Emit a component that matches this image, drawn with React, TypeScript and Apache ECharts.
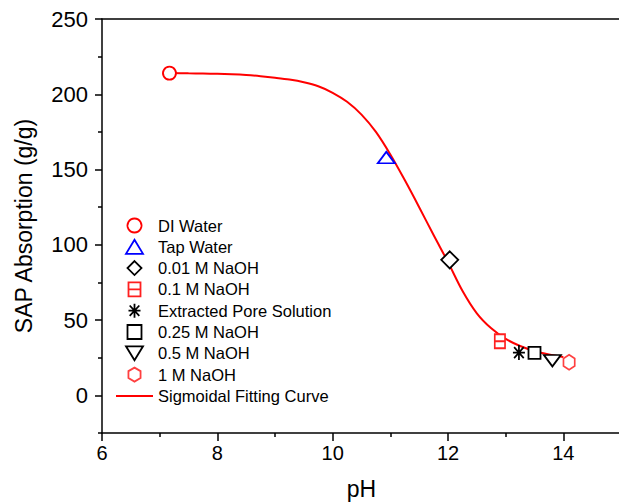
import React, { useEffect, useRef } from "react";
import * as echarts from "echarts";

// ---- data ----
const sampleNames = [
  "DI Water",
  "Tap Water",
  "0.01 M NaOH",
  "0.1 M NaOH",
  "Extracted Pore Solution",
  "0.25 M NaOH",
  "0.5 M NaOH",
  "1 M NaOH",
];
const samplePH = [7.17, 10.93, 12.03, 12.9, 13.23, 13.5, 13.81, 14.1];
const sampleAbsorption = [214, 158, 90, 36, 28.4, 28.2, 23, 22];

const curveName = "Sigmoidal Fitting Curve";
const curvePH = [7.18, 7.5, 7.75, 8.0, 8.25, 8.5, 8.75, 9.0, 9.25, 9.5, 9.75, 10.0, 10.25, 10.5, 10.75, 11.0, 11.25, 11.5, 11.75, 12.0, 12.25, 12.5, 12.75, 13.0, 13.25, 13.5, 13.75, 14.0];
const curveAbs = [214.1, 213.9, 213.8, 213.6, 213.3, 212.8, 212.0, 211.0, 209.8, 208.0, 205.3, 201.0, 195.0, 186.5, 175.0, 160.0, 143.0, 125.0, 106.5, 88.5, 69.5, 54.5, 44.5, 37.5, 32.8, 29.5, 27.2, 25.5];

const yMajorTicks = [0, 50, 100, 150, 200, 250];
const yMinorTicks = [-25, 25, 75, 125, 175, 225];

// ---- styles ----
const symbols = [
  "path://M7,0 A7,7 0 1 1 6.99,0 Z",
  "path://M8.5,0 L17,14 L0,14 Z",
  "path://M9,0 L18,9 L9,18 L0,9 Z",
  "path://M0,0 L12,0 L12,14 L0,14 Z M0,7 L12,7",
  "path://M6,0 L6,14 M0,7 L12,7 M1.2,1.8 L10.8,12.2 M1.2,12.2 L10.8,1.8",
  "path://M0,0 L12,0 L12,12 L0,12 Z",
  "path://M0,0 L17,0 L8.5,14 Z",
  "path://M7,0 L13.06,3.5 L13.06,10.5 L7,14 L0.94,10.5 L0.94,3.5 Z",
];
const sizes: any[] = [13, [17, 14], 17, [12, 14], [14, 15], 12, [17, 14], [13, 15]];
const colors = ["#ff0000", "#0000ff", "#000000", "#ff2020", "#000000", "#000000", "#000000", "#ff4040"];

const FONT = "Liberation Sans, Arial, sans-serif";

export default function App() {
  const ref = useRef<HTMLDivElement>(null);
  useEffect(() => {
    if (!ref.current) return;
    const chart = echarts.init(ref.current, undefined, { renderer: "svg" });
    const scatterSeries = sampleNames.map((name, i) => ({
      name,
      type: "scatter",
      data: [[samplePH[i], sampleAbsorption[i]]],
      symbol: symbols[i],
      symbolSize: sizes[i],
      symbolKeepAspect: true,
      z: 5,
      itemStyle: {
        color: "#ffffff",
        borderColor: colors[i],
        borderWidth: 1.8,
        opacity: 1,
      },
    }));
    const option: any = {
      animation: false,
      backgroundColor: "#ffffff",
      textStyle: { fontFamily: FONT, color: "#000" },
      grid: { left: 102, right: -2, top: 19, bottom: 71, outerBoundsMode: "none", containLabel: false },
      legend: {
        orient: "vertical",
        left: 111,
        top: 212,
        itemWidth: 37,
        itemHeight: 14,
        itemGap: 4.3,
        symbolKeepAspect: true,
        itemStyle: { borderWidth: 1.8 },
        textStyle: { fontFamily: FONT, fontSize: 16.5, color: "#000", lineHeight: 16 },
        data: [
          ...sampleNames.map((name, i) => ({ name, icon: symbols[i] })),
          { name: curveName, icon: "path://M0,0 L37,0 L37,2 L0,2 Z", itemStyle: { color: "#ff0000", borderWidth: 0 } },
        ],
      },
      xAxis: [
        {
          type: "value",
          min: 6,
          max: 15,
          interval: 2,
          name: "pH",
          nameLocation: "middle",
          nameGap: 44,
          nameTextStyle: { fontFamily: FONT, fontSize: 23, color: "#000" },
          axisLine: { show: true, onZero: false, lineStyle: { color: "#000", width: 1.5 } },
          axisTick: { show: true, inside: false, length: 8, lineStyle: { color: "#000", width: 1.5 } },
          minorTick: { show: true, splitNumber: 2, length: 4, lineStyle: { color: "#000", width: 1.5 } },
          axisLabel: { fontFamily: FONT, fontSize: 20, color: "#000", margin: 10, showMaxLabel: false },
          splitLine: { show: false },
          minorSplitLine: { show: false },
        },
        {
          type: "value",
          position: "top",
          min: 6,
          max: 15,
          axisLine: { show: true, onZero: false, lineStyle: { color: "#000", width: 1.5 } },
          axisTick: { show: false },
          axisLabel: { show: false },
          splitLine: { show: false },
        },
      ],
      yAxis: [
        {
          type: "value",
          min: -25,
          max: 250,
          name: "SAP Absorption (g/g)",
          nameLocation: "middle",
          nameGap: 67,
          nameTextStyle: { fontFamily: FONT, fontSize: 23, color: "#000" },
          axisLine: { show: true, onZero: false, lineStyle: { color: "#000", width: 1.5 } },
          axisTick: {
            show: true,
            length: 7,
            customValues: yMajorTicks,
            lineStyle: { color: "#000", width: 1.5 },
          },
          axisLabel: {
            fontFamily: FONT,
            fontSize: 22,
            color: "#000",
            margin: 14,
            customValues: yMajorTicks,
          },
          splitLine: { show: false },
        },
        {
          type: "value",
          min: -25,
          max: 250,
          position: "left",
          axisLine: { show: false },
          axisTick: {
            show: true,
            length: 4,
            customValues: yMinorTicks,
            lineStyle: { color: "#000", width: 1.5 },
          },
          axisLabel: { show: false },
          splitLine: { show: false },
        },
      ],
      series: [
        {
          name: curveName,
          type: "line",
          data: curvePH.map((x, i) => [x, curveAbs[i]]),
          symbol: "none",
          showSymbol: false,
          smooth: 0.3,
          z: 2,
          color: "#ff0000",
          lineStyle: { color: "#ff0000", width: 2 },
          itemStyle: { color: "#ff0000" },
        },
        ...scatterSeries,
      ],
    };
    chart.setOption(option);
    return () => chart.dispose();
  }, []);
  return (
    <div
      ref={ref}
      style={{ position: "fixed", left: 0, top: 0, width: 619, height: 504, background: "#fff" }}
    />
  );
}
